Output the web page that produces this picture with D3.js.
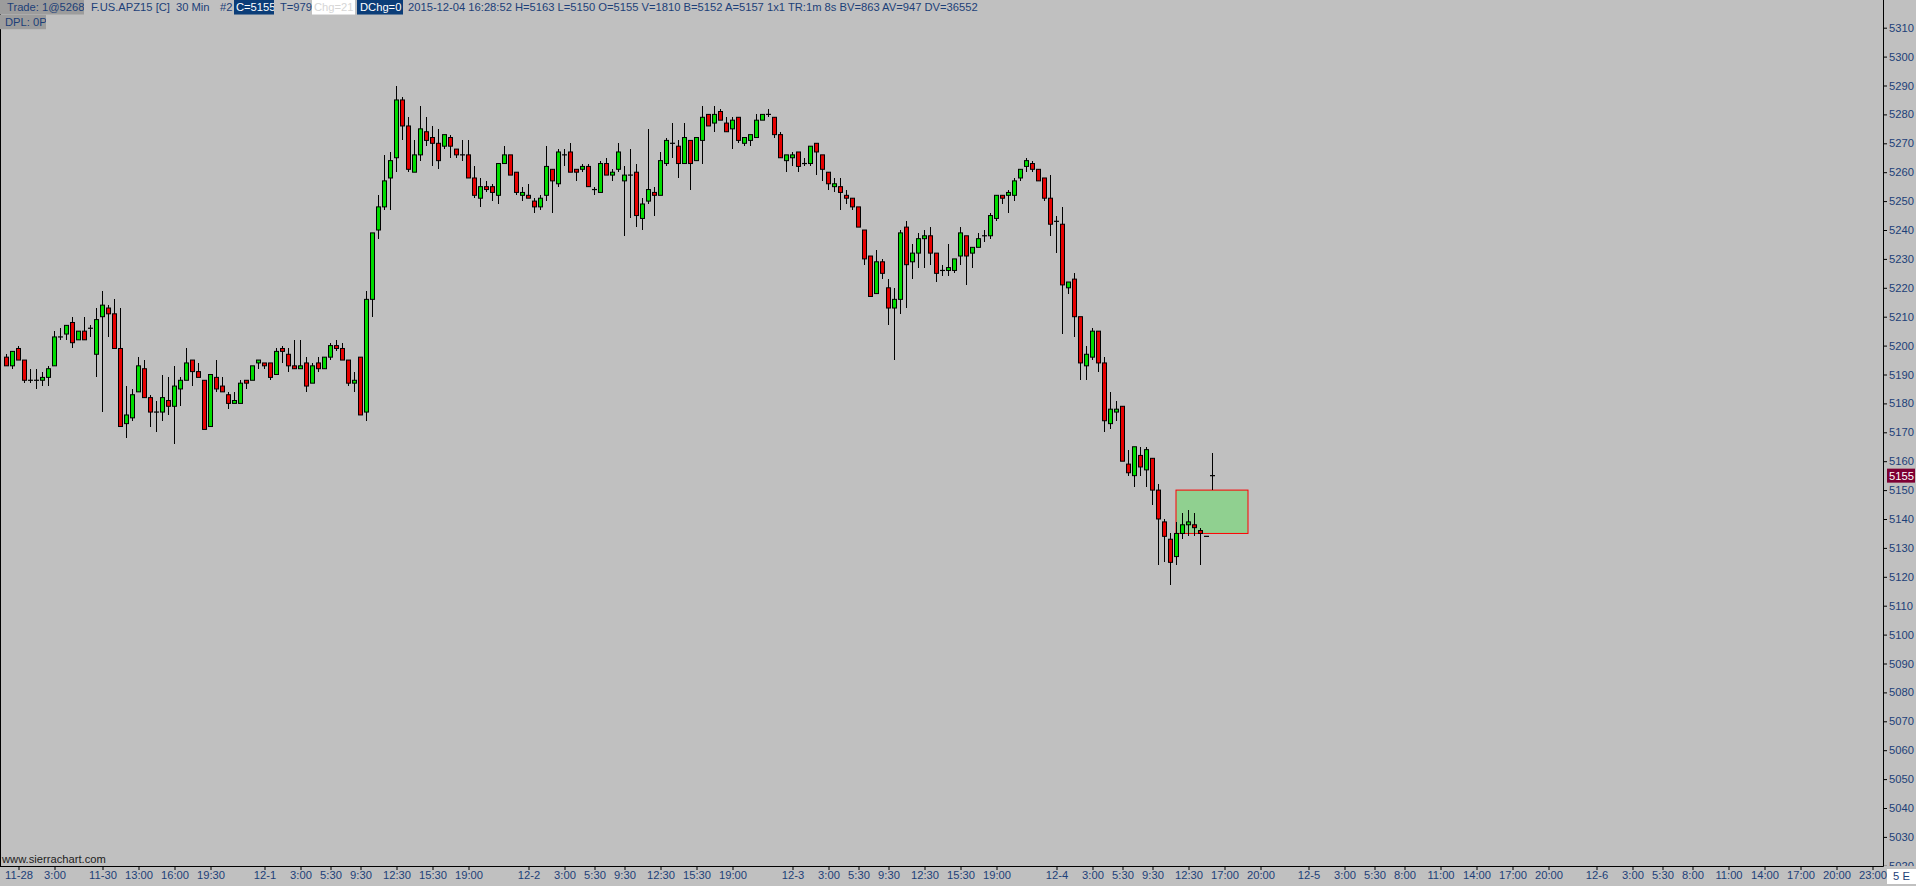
<!DOCTYPE html>
<html><head><meta charset="utf-8">
<script src="https://cdn.jsdelivr.net/npm/d3@7"></script>
<style>
html,body{margin:0;padding:0;background:#c0c0c0;overflow:hidden}
svg{display:block}
text{font-family:"Liberation Sans",Arial,sans-serif;font-size:11.2px}
</style>
</head><body>
<svg id="chart" width="1916" height="886"></svg>
<script>
// ---- DATA (30 min bars, F.US.APZ15) ----
const opens  = [5196,5193,5199,5195,5188,5188,5188,5189,5193,5203,5204,5208,5202,5205,5206,5197,5210,5213,5211,5199,
                5173,5175,5184,5192,5182,5177,5177,5181,5179,5185,5188,5195,5191,5188,5172,5189,5186,5183,5180,5180,
                5188,5188,5194,5194,5194,5190,5199,5197,5193,5192,5194,5187,5194,5192,5196,5200,5199,5195,5187,5196,
                5177,5216,5240,5248,5258,5265,5285,5276,5260,5266,5274,5272,5270,5269,5272,5268,5266,5266,5258,5251,
                5255,5255,5252,5263,5266,5260,5252,5252,5250,5248,5252,5261,5256,5266,5267,5261,5261,5262,5254,5253,
                5263,5259,5261,5257,5259,5260,5244,5250,5253,5252,5263,5270,5269,5263,5271,5264,5271,5280,5277,5281,
                5277,5275,5279,5270,5271,5272,5278,5280,5279,5273,5264,5265,5267,5263,5263,5270,5266,5260,5255,5255,
                5252,5251,5248,5240,5231,5218,5229,5220,5213,5216,5241,5229,5232,5237,5238,5232,5226,5226,5226,5231,
                5238,5232,5234,5238,5238,5244,5252,5252,5252,5258,5262,5263,5261,5258,5251,5243,5242,5220,5223,5210,
                5193,5196,5205,5194,5173,5177,5179,5159,5155,5162,5157,5161,5150,5139,5133,5127,5135,5138,5138,5136,
                5134,5155];
const highs  = [5197,5198,5200,5195,5192,5192,5191,5193,5205,5206,5207,5210,5205,5210,5207,5213,5219,5214,5216,5213,
                5186,5185,5196,5195,5183,5181,5190,5189,5193,5189,5199,5195,5194,5188,5190,5195,5189,5184,5184,5188,
                5188,5193,5195,5194,5194,5199,5200,5199,5202,5202,5196,5194,5196,5196,5201,5202,5201,5195,5191,5196,
                5219,5239,5252,5266,5267,5290,5286,5279,5271,5283,5279,5276,5275,5273,5273,5268,5271,5271,5262,5258,
                5257,5256,5263,5269,5266,5260,5255,5256,5251,5252,5269,5261,5268,5268,5270,5261,5263,5263,5255,5264,
                5265,5261,5270,5262,5268,5263,5251,5275,5255,5267,5272,5277,5271,5277,5271,5272,5283,5280,5283,5282,
                5279,5279,5279,5272,5273,5280,5280,5282,5279,5274,5266,5267,5267,5265,5269,5270,5266,5260,5258,5258,
                5254,5251,5248,5240,5231,5233,5230,5223,5220,5240,5243,5235,5239,5240,5241,5232,5228,5235,5230,5241,
                5238,5234,5239,5240,5246,5252,5252,5254,5258,5261,5265,5264,5261,5258,5259,5245,5248,5222,5225,5210,
                5200,5206,5205,5196,5184,5181,5179,5164,5165,5165,5165,5161,5152,5140,5135,5139,5142,5143,5142,5137,
                5134,5163];
const lows   = [5193,5192,5195,5187,5187,5185,5186,5186,5193,5202,5202,5199,5202,5202,5203,5189,5177,5203,5199,5172,
                5168,5174,5184,5182,5172,5170,5174,5176,5166,5179,5188,5186,5189,5171,5172,5184,5184,5178,5180,5180,
                5185,5188,5192,5192,5188,5190,5194,5191,5192,5192,5184,5187,5191,5192,5195,5198,5195,5186,5184,5176,
                5174,5210,5237,5247,5247,5260,5271,5260,5260,5264,5269,5262,5261,5268,5265,5265,5264,5258,5251,5248,
                5253,5250,5249,5263,5259,5252,5250,5251,5246,5247,5250,5246,5255,5262,5260,5257,5260,5255,5252,5253,
                5259,5257,5260,5238,5244,5241,5240,5249,5245,5252,5262,5265,5258,5263,5254,5264,5263,5276,5274,5278,
                5274,5268,5270,5269,5269,5272,5278,5279,5272,5265,5260,5262,5260,5262,5262,5259,5257,5254,5253,5247,
                5249,5247,5241,5228,5217,5218,5223,5207,5195,5211,5213,5223,5227,5227,5228,5222,5224,5224,5225,5228,
                5221,5227,5234,5236,5237,5243,5249,5246,5250,5257,5260,5260,5257,5250,5238,5232,5204,5218,5203,5188,
                5188,5195,5191,5170,5171,5174,5160,5155,5151,5155,5151,5145,5124,5125,5117,5124,5133,5134,5134,5124,
                5134,5150];
const closes = [5193,5198,5195,5188,5188,5188,5189,5192,5203,5203,5207,5201,5205,5202,5206,5209,5214,5211,5199,5172,
                5176,5183,5193,5182,5177,5177,5182,5179,5186,5188,5194,5191,5189,5171,5190,5185,5184,5180,5181,5187,
                5187,5193,5195,5193,5189,5198,5198,5193,5192,5193,5186,5193,5192,5196,5200,5199,5195,5187,5188,5176,
                5216,5239,5248,5257,5264,5285,5276,5261,5266,5275,5271,5270,5264,5273,5269,5266,5266,5258,5252,5255,
                5254,5253,5263,5266,5259,5253,5253,5251,5248,5251,5262,5257,5267,5266,5260,5260,5262,5255,5254,5263,
                5259,5260,5267,5259,5259,5245,5249,5254,5252,5264,5271,5270,5263,5272,5263,5272,5279,5276,5280,5278,
                5274,5278,5271,5272,5273,5278,5280,5280,5273,5265,5266,5266,5262,5263,5269,5267,5261,5256,5256,5253,
                5251,5248,5241,5230,5217,5229,5225,5213,5216,5239,5228,5232,5237,5238,5232,5225,5226,5227,5230,5239,
                5231,5234,5237,5238,5245,5252,5251,5253,5257,5261,5264,5261,5257,5251,5242,5243,5221,5222,5210,5194,
                5197,5205,5194,5174,5178,5178,5160,5156,5165,5158,5164,5150,5140,5134,5125,5135,5138,5139,5137,5135,
                5134,5155];

const timeLabels = ["11-28","3:00","11-30","13:00","16:00","19:30","12-1","3:00","5:30","9:30","12:30","15:30","19:00",
                    "12-2","3:00","5:30","9:30","12:30","15:30","19:00","12-3","3:00","5:30","9:30","12:30","15:30","19:00",
                    "12-4","3:00","5:30","9:30","12:30","17:00","20:00","12-5","3:00","5:30","8:00","11:00","14:00","17:00","20:00",
                    "12-6","3:00","5:30","8:00","11:00","14:00","17:00","20:00","23:00"];
const timeLabelBars = [2,8,16,22,28,34,43,49,54,59,65,71,77,
                       87,93,98,103,109,115,121,131,137,142,147,153,159,165,
                       175,181,186,191,197,203,209,217,223,228,233,239,245,251,257,
                       265,271,276,281,287,293,299,305,311];
const priceTicks = [5020,5030,5040,5050,5060,5070,5080,5090,5100,5110,5120,5130,5140,5150,5160,
                    5170,5180,5190,5200,5210,5220,5230,5240,5250,5260,5270,5280,5290,5300,5310];
const lastPrice = 5155;
const zoneTop = 5150, zoneBottom = 5135, zoneStartBar = 195, zoneEndBar = 207;

const headerItems = [
  {t:"Trade: 1@5268", bg:"#9c9c9c", fg:"#1c3f78", x0:0, x1:84, tx:7, row:0},
  {t:"F.US.APZ15 [C]", fg:"#1c3f78", tx:91, row:0},
  {t:"30 Min", fg:"#1c3f78", tx:176, row:0},
  {t:"#2", fg:"#1c3f78", tx:220, row:0},
  {t:"C=5155", bg:"#0b3d78", fg:"#ffffff", x0:234, x1:274, tx:236, row:0},
  {t:"T=979", fg:"#1c3f78", tx:280, row:0},
  {t:"Chg=21", bg:"#ffffff", fg:"#d6d6d6", x0:312, x1:355, tx:314, row:0},
  {t:"DChg=0", bg:"#0b3d78", fg:"#ffffff", x0:357, x1:403, tx:360, row:0},
  {t:"2015-12-04 16:28:52 H=5163 L=5150 O=5155 V=1810 B=5152 A=5157 1x1 TR:1m 8s BV=863 AV=947 DV=36552", fg:"#1c3f78", tx:408, row:0},
  {t:"DPL: 0P", bg:"#9c9c9c", fg:"#1c3f78", x0:0, x1:46, tx:5, row:1}
];

// ---- LAYOUT ----
const W = 1916, H = 886;
const plotRight = 1883, plotBottom = 866;
const blue = "#1c3f78", upColor = "#00dc00", downColor = "#e60000";
const FONT = '"Liberation Sans",Arial,sans-serif';

const svg = d3.select("#chart");
svg.append("rect").attr("width",W).attr("height",H).attr("fill","#c0c0c0");

const x = d3.scaleLinear().domain([0, 1]).range([6.5, 12.5]);
const y = d3.scaleLinear().domain([5020, 5310]).range([865.8, 27.7]);

const bars = opens.map((o,i)=>({i, o, h:highs[i], l:lows[i], c:closes[i]}));

const defs = svg.append("defs");
defs.append("clipPath").attr("id","plotClip").append("rect")
  .attr("x",0).attr("y",0).attr("width",plotRight).attr("height",plotBottom);
defs.append("clipPath").attr("id","axisClip").append("rect")
  .attr("x",0).attr("y",0).attr("width",W-plotRight).attr("height",plotBottom);

const plot = svg.append("g").attr("clip-path","url(#plotClip)");

// zone rectangle
plot.append("rect")
  .attr("x", x(zoneStartBar)-0.5).attr("y", y(zoneTop))
  .attr("width", x(zoneEndBar)-x(zoneStartBar)).attr("height", y(zoneBottom)-y(zoneTop))
  .attr("fill","#90d090").attr("stroke","#ff0000").attr("stroke-width",1);

// wicks
plot.append("g").selectAll("line").data(bars).join("line")
  .attr("x1", d=>x(d.i)).attr("x2", d=>x(d.i))
  .attr("y1", d=>y(d.h)).attr("y2", d=>y(d.l))
  .attr("stroke","#000").attr("stroke-width",1)
  .attr("shape-rendering","crispEdges");

// bodies
const bodyBars = bars.filter(d=>d.o!==d.c);
plot.append("g").selectAll("rect").data(bodyBars).join("rect")
  .attr("x", d=>x(d.i)-2).attr("width",4)
  .attr("y", d=>y(Math.max(d.o,d.c)))
  .attr("height", d=>Math.abs(y(d.o)-y(d.c)))
  .attr("fill", d=>d.c>d.o?upColor:downColor)
  .attr("stroke","#000").attr("stroke-width",1);

// doji
const dojiBars = bars.filter(d=>d.o===d.c);
plot.append("g").selectAll("line").data(dojiBars).join("line")
  .attr("x1", d=>x(d.i)-2.5).attr("x2", d=>x(d.i)+2.5)
  .attr("y1", d=>y(d.o)).attr("y2", d=>y(d.o))
  .attr("stroke","#000").attr("stroke-width",1.2);

// left border
svg.append("line").attr("x1",0.5).attr("x2",0.5).attr("y1",0).attr("y2",plotBottom)
  .attr("stroke","#000").attr("stroke-width",1);

// price axis
const yAxisG = svg.append("g").attr("transform",`translate(${plotRight},0)`).attr("clip-path","url(#axisClip)");
const yAxis = d3.axisRight(y).tickValues(priceTicks).tickSize(4).tickPadding(2).tickFormat(d3.format("d"));
yAxisG.call(yAxis);
yAxisG.select(".domain").remove();
yAxisG.selectAll(".tick line").attr("stroke","#000");
yAxisG.selectAll(".tick text").attr("fill",blue).style("font-size","11.2px").style("font-family",FONT);

// axis lines
svg.append("line").attr("x1",plotRight+0.5).attr("x2",plotRight+0.5).attr("y1",0).attr("y2",plotBottom+0.5)
  .attr("stroke","#000");
svg.append("line").attr("x1",0).attr("x2",plotRight+0.5).attr("y1",plotBottom+0.5).attr("y2",plotBottom+0.5)
  .attr("stroke","#000");

// last price marker
const lp = svg.append("g").attr("transform",`translate(${plotRight+4},${y(lastPrice)})`);
lp.append("rect").attr("x",0).attr("y",-7).attr("width",28).attr("height",14).attr("fill","#7e0033");
lp.append("text").attr("x",2).attr("y",0).attr("dy","0.35em").attr("fill","#ffffff").text(lastPrice);

// time axis
const xAxisG = svg.append("g").attr("transform",`translate(0,${plotBottom})`);
const xAxis = d3.axisBottom(x).tickValues(timeLabelBars).tickSize(4).tickPadding(1)
  .tickFormat((d,i)=>timeLabels[i]);
xAxisG.call(xAxis);
xAxisG.select(".domain").remove();
xAxisG.selectAll(".tick line").attr("stroke","#000");
xAxisG.selectAll(".tick text").attr("fill",blue).style("font-size","11.2px").style("font-family",FONT);
xAxisG.selectAll(".tick text").each(function(){
  const bb = this.getBBox();
  const t = d3.select(this.parentNode).attr("transform");
  const tx = +t.match(/translate\(([-\d.]+)/)[1];
  if (tx + bb.x < 3) d3.select(this).attr("x", 3 - (tx + bb.x));
});

// bottom-right box
const be = svg.append("g").attr("transform",`translate(1887,869)`);
be.append("rect").attr("width",29).attr("height",15).attr("fill","#ffffff");
be.append("text").attr("x",14.5).attr("y",7.5).attr("dy","0.35em").attr("text-anchor","middle").attr("fill",blue).text("5 E");

// watermark
svg.append("text").attr("x",2).attr("y",863).attr("fill","#202020").text("www.sierrachart.com");

// header
const hdr = svg.append("g");
headerItems.forEach((h,k)=>{
  const top = h.row*14.7, hgt = 14.7;
  const g = hdr.append("g");
  if (h.bg){
    defs.append("clipPath").attr("id","hc"+k).append("rect")
      .attr("x",h.x0).attr("y",top).attr("width",h.x1-h.x0).attr("height",hgt);
    g.attr("clip-path",`url(#hc${k})`);
    g.append("rect").attr("x",h.x0).attr("y",top).attr("width",h.x1-h.x0).attr("height",hgt).attr("fill",h.bg);
  }
  g.append("text").attr("x",h.tx).attr("y",top+11).attr("fill",h.fg).text(h.t);
});
</script>
</body></html>
